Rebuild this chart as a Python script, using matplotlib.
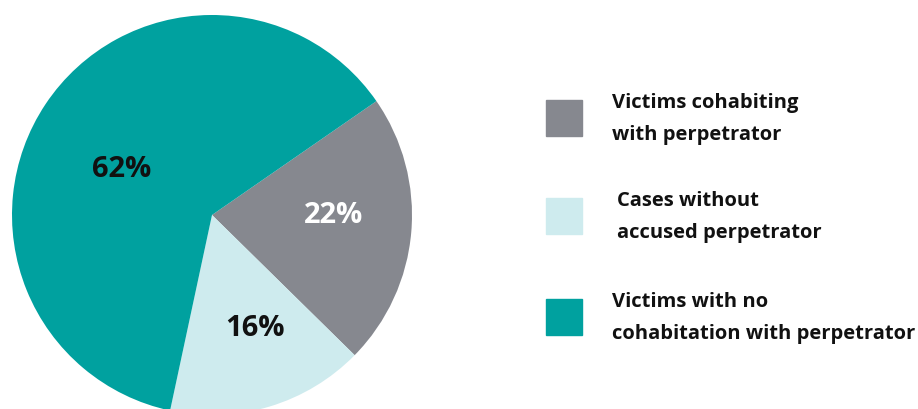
import matplotlib.pyplot as plt
from matplotlib.patches import Rectangle

# Datos del gráfico
categorias = ["Victims cohabiting\nwith perpetrator",
              "Cases without\naccused perpetrator",
              "Victims with no\ncohabitation with perpetrator"]
valores = [22, 16, 62]
etiquetas = ["22%", "16%", "62%"]
colores = ["#86888f", "#ceebee", "#00a19f"]
color_texto = ["white", "#111111", "#111111"]

plt.rcParams['font.family'] = ['Open Sans', 'DejaVu Sans']

fig = plt.figure(figsize=(9.18, 4.10), dpi=100)
W, H = 918, 410

# Pastel: centro (212, 216) px, radio 200 px
cx, cy, r = 212, 216, 200
ax = fig.add_axes([(cx - r) / W, (H - cy - r) / H, 2 * r / W, 2 * r / H])
wedges, _ = ax.pie(valores, colors=colores, startangle=34.7, counterclock=False,
                   radius=1, wedgeprops=dict(linewidth=0))
ax.set_xlim(-1, 1)
ax.set_ylim(-1, 1)
ax.set_aspect('equal')
ax.axis("off")

# Posiciones de las etiquetas en px
pos_etiquetas = [(334, 216), (255, 328), (122, 170)]
for (px, py), txt, col in zip(pos_etiquetas, etiquetas, color_texto):
    ax.text((px - cx) / r, (cy - py) / r, txt, ha="center", va="center",
            fontsize=21, fontweight="bold", color=col)

# Leyenda manual
leyenda_y = [101, 199, 300]
texto_x = [612, 617, 612]
for y0, tx, cat, col in zip(leyenda_y, texto_x, categorias, colores):
    fig.patches.append(Rectangle((546 / W, (H - y0 - 36) / H), 36 / W, 36 / H,
                                 transform=fig.transFigure, color=col))
    fig.text(tx / W, (H - y0 - 18) / H, cat, ha="left", va="center",
             fontsize=14.5, fontweight="bold", color="#111111", linespacing=1.85)

plt.savefig("out.png", dpi=100)
